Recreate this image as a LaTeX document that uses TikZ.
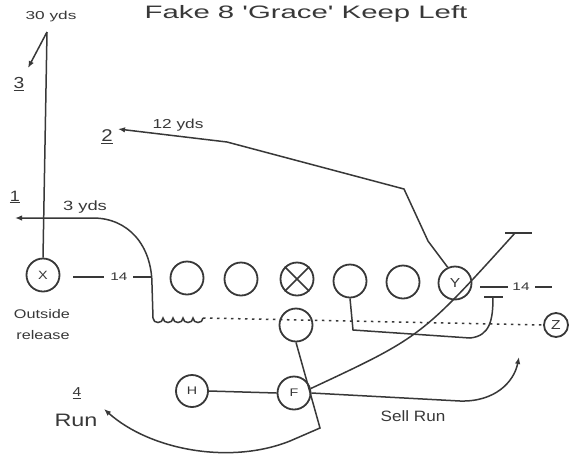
\documentclass[tikz,border=0pt]{standalone}
\usepackage{fontspec}
\usepackage{graphicx}
\setmainfont{Liberation Sans}
\usetikzlibrary{arrows.meta}
\definecolor{dg}{gray}{0.22}
\newcommand{\tx}[3]{\scalebox{#2}[1]{\fontsize{#1}{#1}\selectfont #3}}
\newcommand{\sq}{{\XeTeXglyph\XeTeXcharglyph"0027\relax}}
\begin{document}
\begin{tikzpicture}[x=1pt,y=-1pt,
  pl/.style={circle,draw=dg,line width=1.8pt,minimum size=33pt,inner sep=0pt,text=dg},
  rt/.style={draw=dg,line width=1.5pt},
  ar/.style={-{Latex[length=7pt,width=5.5pt]}},
  lb/.style={text=dg,inner sep=0pt},
  dots/.style={draw=dg,line width=1.5pt,dash pattern=on 2.5pt off 4.5pt}]
\useasboundingbox (0,0) rectangle (578,459);
\fill[white] (0,0) rectangle (578,459);

% players
\node[pl] (X) at (43,275) {\tx{12}{1.2}{X}};
\node[pl] (L1) at (187,278) {};
\node[pl] (L2) at (241,279) {};
\node[pl] (C) at (297,279) {};
\node[pl] (L4) at (350,281) {};
\node[pl] (L5) at (403,282) {};
\node[pl] (Y) at (455,283) {\tx{13}{1.2}{Y}};
\node[pl,minimum size=24pt] (Z) at (556,325) {\tx{13}{1.2}{Z}};
\node[pl] (Q) at (296,325) {};
\node[pl,minimum size=32pt] (H) at (192,391) {\tx{11}{1.3}{H}};
\node[pl] (F) at (294,393) {\tx{11}{1.3}{F}};
\draw[rt] (C.45) -- (C.225) (C.135) -- (C.315);

% texts
\node[lb] (title) at (306,14) {\tx{18}{1.63}{Fake 8 \sq Grace\sq\ Keep Left}};
\node[lb] (t30) at (51,17) {\tx{11.5}{1.5}{30 yds}};
\node[lb] (n3) at (19,84) {\tx{16}{1.2}{\underline{3}}};
\node[lb] (n1) at (15,197) {\tx{15}{1.2}{\underline{1}}};
\node[lb] (t3y) at (85,207) {\tx{13.4}{1.37}{3 yds}};
\node[lb] (n2) at (107,137) {\tx{17}{1.2}{\underline{2}}};
\node[lb] (t12) at (178,125) {\tx{13}{1.33}{12 yds}};
\node[lb] (k1) at (119,277) {\tx{11}{1.4}{14}};
\node[lb] (k2) at (521,287) {\tx{11}{1.4}{14}};
\node[lb] (out1) at (42,314) {\tx{12.5}{1.3}{Outside}};
\node[lb] (out2) at (43,335) {\tx{12.5}{1.3}{release}};
\node[lb] (n4) at (77,393) {\tx{13}{1.2}{\underline{4}}};
\node[lb] (run) at (76,420) {\tx{18}{1.3}{Run}};
\node[lb] (sell) at (413,416) {\tx{15}{1.14}{Sell Run}};

% coordinates
\coordinate (t3) at (47,32);
\coordinate (a3) at (28,68);
\coordinate (r1a) at (153,318);
\coordinate (r1b) at (152,285);
\coordinate (r1c) at (93,218);
\coordinate (a1) at (15,218);
\coordinate (sqe) at (203,318);
\coordinate (y1) at (428,241);
\coordinate (y2) at (404,189);
\coordinate (y3) at (227,142);
\coordinate (a2) at (118,129);
\coordinate (l4a) at (353,330);
\coordinate (l4b) at (470,338);
\coordinate (l4c) at (493,297);
\coordinate (tb1) at (484,297);
\coordinate (tb2) at (503,297);
\coordinate (fd) at (515,233);
\coordinate (tt1) at (505,233);
\coordinate (tt2) at (532,233);
\coordinate (s1) at (460,401);
\coordinate (as) at (519,357);
\coordinate (q1) at (320,428);
\coordinate (q2) at (290,441);
\coordinate (a4) at (104,409);
\coordinate (d1) at (73,277);
\coordinate (d2) at (104,277);
\coordinate (d3) at (133,277);
\coordinate (d4) at (152,277);
\coordinate (e1) at (480,287);
\coordinate (e2) at (508,287);
\coordinate (e3) at (535,287);
\coordinate (e4) at (552,287);

% route 3 (X)
\draw[rt] (X.north) -- (t3);
\draw[rt,ar] (t3) -- (a3);

% route 1
\draw[rt,ar] (r1a) -- (r1b) .. controls (152,245) and (128,218) .. (r1c) -- (a1);
\draw[rt] (r1a)
  .. controls +(0,6) and +(0,6) .. ++(10,0)
  .. controls +(0,6) and +(0,6) .. ++(10,0)
  .. controls +(0,6) and +(0,6) .. ++(10,0)
  .. controls +(0,6) and +(0,6) .. ++(10,0)
  .. controls +(0,6) and +(0,6) .. (sqe);
\draw[dots] (sqe) -- (Z.west);

% 14 marks
\draw[rt] (d1) -- (d2) (d3) -- (d4);
\draw[rt] (e1) -- (e2) (e3) -- (e4);

% route 2 (Y)
\draw[rt,ar] (Y.115) -- (y1) -- (y2) -- (y3) -- (a2);

% lineman block
\draw[rt] (L4.south) -- (l4a) -- (l4b) .. controls (490,336) and (493,320) .. (l4c);
\draw[rt] (tb1) -- (tb2);

% F diagonal
\draw[rt] (F.15) .. controls (421,337) .. (fd);
\draw[rt] (tt1) -- (tt2);

% sell run
\draw[rt,ar] (F.east) -- (s1) .. controls (495,402) and (514,382) .. (as);

% H - F
\draw[rt] (H.east) -- (F.west);

% run path
\draw[rt,ar] (Q.south) -- (q1) -- (q2) .. controls (230,465) and (150,450) .. (a4);
\end{tikzpicture}
\end{document}
